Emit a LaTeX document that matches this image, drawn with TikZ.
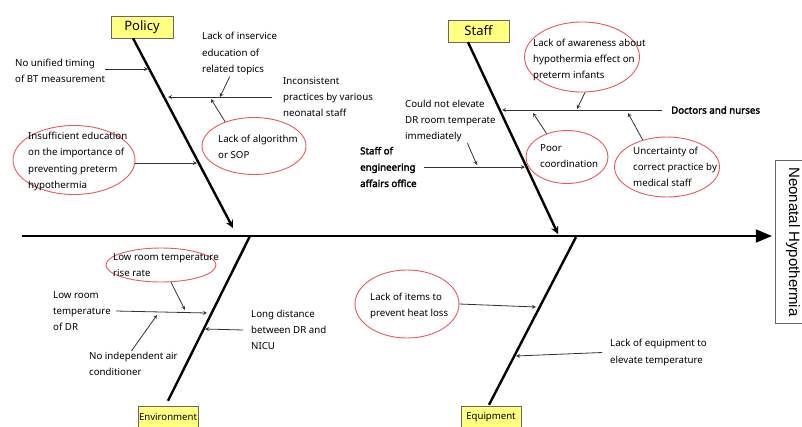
\documentclass[tikz,border=0pt]{standalone}
\usepackage{fontspec}
\setmainfont{Noto Sans}[BoldFont={Noto Sans}, BoldFeatures={FakeBold=2.5}]
\newfontfamily\effectfont{Liberation Sans}
\usepackage{tikz}
\usetikzlibrary{shapes.geometric, arrows}

\definecolor{ringred}{RGB}{230,90,90}
\definecolor{headyellow}{RGB}{255,255,128}
\definecolor{linegray}{RGB}{50,50,50}

\begin{document}
\begin{tikzpicture}[x=1pt, y=-1pt,
    cause/.style={anchor=west, inner sep=0pt, align=left, font=\fontsize{9.7}{16.3}\selectfont},
    ring/.style={draw=ringred, line width=0.9pt, ellipse, inner sep=0pt},
    head/.style={draw=gray!80!black, fill=headyellow, minimum height=22pt, inner sep=0pt, font=\fontsize{9.6}{11}\selectfont},
    bone/.style={draw, line width=2.4pt},
    arrow/.style={draw=linegray, line width=0.8pt, ->, >=stealth}
]
    \useasboundingbox (0,0) rectangle (802,426);

    % Effect and spine
    \node[draw=gray!80!black, minimum width=38pt, minimum height=163pt, inner sep=0pt] (effect) at (794,241.5) {};
    \node[rotate=-90, inner sep=0pt] (effecttext) at (793,242) {\effectfont\fontsize{15}{18}\selectfont Neonatal Hypothermia};
    \coordinate (tail) at (22,236);
    \draw[line width=2.8pt, ->, >=triangle 45, shorten >=3pt] (tail) -- (effect.west |- tail);

    % Heads
    \node[head, minimum width=62pt, font=\fontsize{13}{15}\selectfont] (pol) at (142,27) {Policy};
    \node[head, minimum width=61pt, font=\fontsize{13}{15}\selectfont] (staff) at (478.5,31) {Staff};
    \node[head, minimum width=60pt] (env) at (168,417) {Environment};
    \node[head, minimum width=60pt] (equip) at (491,417) {Equipment};

    % Bones
    \coordinate (jPol) at (233,228);
    \coordinate (jStaff) at (558,234);
    \coordinate (jEnv) at (250,236);
    \coordinate (jEquip) at (576,237);
    \draw[bone, ->, >=stealth] ([xshift=-9pt]pol.south) -- (jPol);
    \draw[bone, ->, >=stealth] ([xshift=-10.5pt]staff.south) -- (jStaff);
    \draw[bone] (jEnv) -- ([yshift=5pt]env.north);
    \draw[bone] (jEquip) -- ([xshift=-2pt,yshift=1pt]equip.north);

    % Policy
    \node[cause] (tTiming) at (15,71) {No unified timing\\of BT measurement};
    \node[cause] (tInservice) at (202,53.5) {Lack of inservice\\education of\\related topics};
    \node[cause] (tIncons) at (283,97) {Inconsistent\\practices by various\\neonatal staff};
    \node[ring, minimum width=104pt, minimum height=57pt] (eAlg) at (254,146) {};
    \node[cause] (tAlg) at (218,147) {Lack of algorithm\\or SOP};
    \node[ring, minimum width=122pt, minimum height=69pt] (eEdu) at (74,160) {};
    \node[cause] (tEdu) at (28,161.5) {Insufficient education\\on the importance of\\preventing preterm\\hypothermia};

    \coordinate (pTiming) at (148,69);
    \coordinate (pIncons) at (168,97);
    \coordinate (mIncons) at (220,97);
    \coordinate (nIncons) at (211,99);
    \coordinate (pEdu) at (197,163);
    \draw[arrow] (tTiming.east |- pTiming) -- (pTiming);
    \draw[arrow] ([xshift=-11pt]tIncons.west) -- (pIncons);
    \draw[arrow] ([xshift=-10pt,yshift=-2pt]tInservice.south) -- (mIncons);
    \draw[arrow] (eAlg.140) -- (nIncons);
    \draw[arrow] (eEdu.east |- pEdu) -- (pEdu);

    % Staff
    \node[ring, minimum width=115pt, minimum height=70pt] (eAware) at (582,57) {};
    \node[cause] (tAware) at (533,60) {Lack of awareness about\\hypothermia effect on\\preterm infants};
    \node[cause, font=\fontsize{9.7}{16.3}\selectfont\bfseries] (tDoctors) at (671,110) {Doctors and nurses};
    \node[cause] (tElevate) at (405,121) {Could not elevate\\DR room temperate\\immediately};
    \node[cause, font=\fontsize{9.7}{16.3}\selectfont\bfseries] (tEngin) at (360,167) {Staff of\\engineering\\affairs office};
    \node[ring, minimum width=82pt, minimum height=53pt] (ePoor) at (567,157) {};
    \node[cause] (tPoor) at (540,156) {Poor\\coordination};
    \node[ring, minimum width=105pt, minimum height=60pt] (eUnc) at (667,167) {};
    \node[cause] (tUnc) at (633,167) {Uncertainty of\\correct practice by\\medical staff};

    \coordinate (sDoctors) at (502,110);
    \coordinate (mAware) at (577,109);
    \coordinate (mPoor) at (533,113);
    \coordinate (mUnc) at (628,113);
    \coordinate (sEngin) at (525,167);
    \coordinate (mEngin) at (477,165);
    \draw[arrow] ([xshift=-9pt]tDoctors.west) -- (sDoctors);
    \draw[arrow] ([xshift=3pt]eAware.south) -- (mAware);
    \draw[arrow] (ePoor.131) -- (mPoor);
    \draw[arrow] (eUnc.132) -- (mUnc);
    \draw[arrow] ([xshift=7pt]tEngin.east) -- (sEngin);
    \draw[arrow] ([xshift=17pt,yshift=-1pt]tElevate.south) -- (mEngin);

    % Environment
    \node[ring, minimum width=110pt, minimum height=34pt] (eRise) at (161,265) {};
    \node[cause] (tRise) at (113,265) {Low room temperature\\rise rate};
    \node[cause] (tLowDR) at (53,311) {Low room\\temperature\\of DR};
    \node[cause] (tNoAir) at (89,364) {No independent air\\conditioner};
    \node[cause] (tDist) at (251,330) {Long distance\\between DR and\\NICU};

    \coordinate (vLowDR) at (207,313);
    \coordinate (mRise) at (185,310);
    \coordinate (mNoAir) at (157,315);
    \coordinate (vDist) at (205,329);
    \draw[arrow] ([xshift=5pt]tLowDR.east) -- (vLowDR);
    \draw[arrow] (eRise.-60) -- (mRise);
    \draw[arrow] ([xshift=-2pt,yshift=1pt]tNoAir.north) -- (mNoAir);
    \draw[arrow] ([xshift=-8pt]tDist.west) -- (vDist);

    % Equipment
    \node[ring, minimum width=104pt, minimum height=68pt] (eItems) at (407,304) {};
    \node[cause] (tItems) at (370,306) {Lack of items to\\prevent heat loss};
    \node[cause] (tEquip) at (610,352.5) {Lack of equipment to\\elevate temperature};

    \coordinate (qItems) at (536,307);
    \coordinate (qEquip) at (516,356);
    \draw[arrow] (eItems.east) -- (qItems);
    \draw[arrow] ([xshift=-8pt]tEquip.west) -- (qEquip);
\end{tikzpicture}
\end{document}
